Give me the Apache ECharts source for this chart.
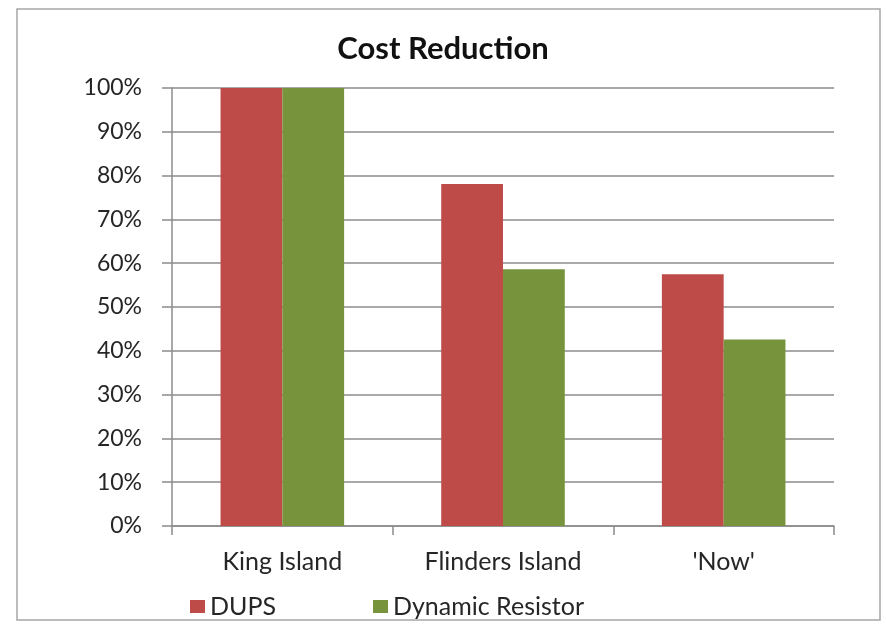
<!DOCTYPE html>
<html>
<head>
    <meta charset="utf-8">
    <title>Cost Reduction</title>
    <script src="https://cdn.jsdelivr.net/npm/echarts@6/dist/echarts.min.js"></script>
    <style>
        body { margin: 0; background: #ffffff; }
    </style>
</head>
<body>
    <div id="main" style="width: 886px;height:629px;"></div>
    <script type="text/javascript">
        var categories = ['King Island', 'Flinders Island', "'Now'"];
        var dups = [1.00, 0.781, 0.575];
        var dynamicResistor = [1.00, 0.586, 0.426];
        var yTicks = [0, 0.1, 0.2, 0.3, 0.4, 0.5, 0.6, 0.7, 0.8, 0.9, 1.0];

        var font = 'Lato, "Open Sans", sans-serif';
        var myChart = echarts.init(document.getElementById('main'));
        var option = {
            backgroundColor: '#ffffff',
            animation: false,
            graphic: [{
                type: 'rect',
                shape: { x: 17, y: 9, width: 863, height: 611 },
                style: { fill: 'none', stroke: '#a6a6a6', lineWidth: 1.5 },
                z: -1
            }],
            title: {
                text: 'Cost Reduction',
                left: 'center',
                top: 28,
                textStyle: { fontFamily: font, fontWeight: 'bold', fontSize: 31, color: '#111' }
            },
            legend: [{
                data: ['DUPS'],
                left: 185,
                top: 589,
                icon: 'rect',
                itemWidth: 15,
                itemHeight: 13,
                itemGap: 6,
                textStyle: { fontFamily: font, fontSize: 25, color: '#262626' }
            }, {
                data: ['Dynamic Resistor'],
                left: 368,
                top: 589,
                icon: 'rect',
                itemWidth: 15,
                itemHeight: 13,
                textStyle: { fontFamily: font, fontSize: 25, color: '#262626' }
            }],
            grid: { left: 172, right: 52, top: 88, bottom: 103, containLabel: false },
            xAxis: [{
                type: 'category',
                data: categories,
                axisLine: { lineStyle: { color: '#8c8c8c', width: 1.5 } },
                axisTick: { show: true, length: 9, lineStyle: { color: '#8c8c8c', width: 1.5 } },
                axisLabel: { margin: 23, fontFamily: font, fontSize: 25, color: '#262626' }
            }],
            yAxis: [{
                type: 'value',
                min: yTicks[0],
                max: yTicks[yTicks.length - 1],
                interval: 0.1,
                axisLine: { show: true, lineStyle: { color: '#8c8c8c', width: 1.5 } },
                axisTick: { show: true, length: 10, lineStyle: { color: '#8c8c8c', width: 1.5 } },
                axisLabel: {
                    margin: 30,
                    fontFamily: font,
                    fontSize: 23,
                    color: '#262626',
                    formatter: function (v) { return Math.round(v * 100) + '%'; }
                },
                splitLine: { lineStyle: { color: '#8c8c8c', width: 1.5 } }
            }],
            series: [{
                name: 'DUPS',
                type: 'bar',
                data: dups,
                barGap: '0%',
                barCategoryGap: '44%',
                itemStyle: { color: '#be4b48' }
            }, {
                name: 'Dynamic Resistor',
                type: 'bar',
                data: dynamicResistor,
                itemStyle: { color: '#77933c' }
            }]
        };
        myChart.setOption(option);
    </script>
</body>
</html>
